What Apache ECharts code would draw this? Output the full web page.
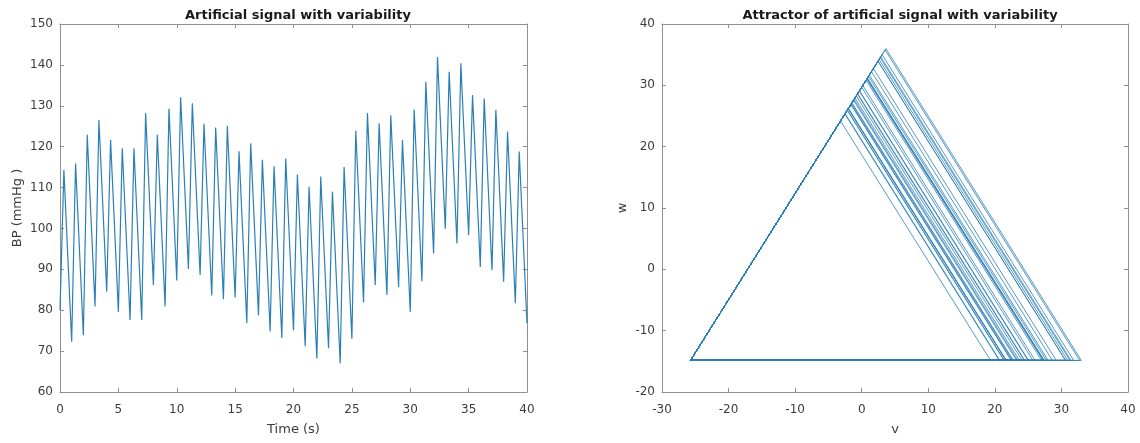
<!DOCTYPE html>
<html>
<head>
<meta charset="utf-8">
<title>Artificial signal with variability</title>
<script src="https://cdn.jsdelivr.net/npm/echarts@6/dist/echarts.min.js"></script>
<style>
  html, body { margin: 0; padding: 0; background: #ffffff; }
  #chart { width: 1140px; height: 443px; }
</style>
</head>
<body>
<div id="chart"></div>
<script>
// ---- Signal data -------------------------------------------------------
// One beat per second; each beat rises for a third of a second to its peak,
// then falls linearly to the next trough.
const beatPeriod = 1;          // s
const upstrokeTime = 1 / 3;    // s, trough -> peak
const delayTau = 1 / 3;        // s, embedding delay for the attractor

// Pressure at t = 0 (mmHg)
const startValue = 80.0;

// Systolic peaks of beats 1..40 (mmHg)
const peakValues = [
  114.3, 115.9, 122.9, 126.5, 121.6, 119.6, 119.6, 128.2, 122.9, 129.3,
  132.1, 130.6, 125.6, 124.7, 125.1, 118.9, 120.8, 116.8, 115.2, 117.1,
  113.2, 110.2, 112.7, 109.0, 115.0, 123.9, 128.2, 125.7, 127.7, 121.6,
  129.1, 135.9, 141.9, 138.3, 140.4, 132.6, 131.8, 129.0, 123.7, 118.8
];

// Troughs closing beats 1..40 (mmHg)
const troughValues = [
  72.3, 73.9, 80.9, 84.5, 79.6, 77.6, 77.6, 86.2, 80.9, 87.3,
  90.1, 88.6, 83.6, 82.7, 83.1, 76.9, 78.8, 74.8, 73.2, 75.1,
  71.2, 68.2, 70.7, 67.0, 73.0, 81.9, 86.2, 83.7, 85.7, 79.6,
  87.1, 93.9, 99.9, 96.3, 98.4, 90.6, 89.8, 87.0, 81.7, 76.8
];

// Axis ticks
const timeTicks = [0, 5, 10, 15, 20, 25, 30, 35, 40];
const bpTicks = [60, 70, 80, 90, 100, 110, 120, 130, 140, 150];
const vTicks = [-30, -20, -10, 0, 10, 20, 30, 40];
const wTicks = [-20, -10, 0, 10, 20, 30, 40];

// ---- Build the waveform vertices ---------------------------------------
const signal = [[0, startValue]];
peakValues.forEach(function (p, k) {
  signal.push([k * beatPeriod + upstrokeTime, p]);
  signal.push([(k + 1) * beatPeriod, troughValues[k]]);
});

// Linear interpolation along the waveform
function signalAt(t) {
  for (let i = 1; i < signal.length; i++) {
    const a = signal[i - 1], b = signal[i];
    if (t <= b[0] + 1e-9) {
      const f = (t - a[0]) / (b[0] - a[0]);
      return a[1] + f * (b[1] - a[1]);
    }
  }
  return signal[signal.length - 1][1];
}

// ---- Attractor: 3-D delay embedding projected orthogonally to (1,1,1) ----
const tEnd = signal[signal.length - 1][0];
const attractor = [];
const steps = Math.round(tEnd / delayTau);
for (let j = 2; j <= steps; j++) {
  const t = j * delayTau;
  const x1 = signalAt(t), x2 = signalAt(t - delayTau), x3 = signalAt(t - 2 * delayTau);
  const v = (x1 + x2 - 2 * x3) / Math.sqrt(6);
  const w = (x1 - x2) / Math.sqrt(2);
  attractor.push([v, w]);
}

// ---- Chart ---------------------------------------------------------------
const FONT = '"DejaVu Sans", Verdana, sans-serif';
const boxColor = '#8f8f8f';
const labelColor = '#3c3c3c';
const lineColor = '#2b7fb7';

function tickRange(ticks) {
  return { min: ticks[0], max: ticks[ticks.length - 1], interval: ticks[1] - ticks[0] };
}

function axis(gridIndex, ticks, position, extra) {
  const r = tickRange(ticks);
  const main = position === 'bottom' || position === 'left';
  return Object.assign({
    gridIndex: gridIndex,
    type: 'value',
    position: position,
    min: r.min, max: r.max, interval: r.interval,
    axisLine: { show: true, onZero: false, lineStyle: { color: boxColor, width: 1 } },
    axisTick: { show: true, inside: true, length: 4, lineStyle: { color: boxColor, width: 1 } },
    axisLabel: {
      show: main, color: labelColor, fontSize: 12, fontFamily: FONT,
      margin: position === 'bottom' ? 12 : 7
    },
    splitLine: { show: false },
    nameTextStyle: { color: labelColor, fontSize: 13, fontFamily: FONT }
  }, extra || {});
}

const titleStyle = { fontSize: 13, fontWeight: 'bold', color: '#1a1a1a', fontFamily: FONT };

const option = {
  animation: false,
  backgroundColor: '#ffffff',
  title: [
    {
      text: 'Artificial signal with variability',
      left: 293, top: 4, textAlign: 'center',
      textStyle: titleStyle
    },
    {
      text: 'Attractor of artificial signal with variability',
      left: 895, top: 4, textAlign: 'center',
      textStyle: titleStyle
    }
  ],
  grid: [
    { left: 60, top: 24, width: 467, height: 368 },
    { left: 662, top: 24, width: 466, height: 368 }
  ],
  xAxis: [
    axis(0, timeTicks, 'bottom', { name: 'Time (s)', nameLocation: 'middle', nameGap: 31 }),
    axis(0, timeTicks, 'top'),
    axis(1, vTicks, 'bottom', { name: 'v', nameLocation: 'middle', nameGap: 31 }),
    axis(1, vTicks, 'top')
  ],
  yAxis: [
    axis(0, bpTicks, 'left', { name: 'BP (mmHg )', nameLocation: 'middle', nameGap: 36 }),
    axis(0, bpTicks, 'right'),
    axis(1, wTicks, 'left', { name: 'w', nameLocation: 'middle', nameGap: 33 }),
    axis(1, wTicks, 'right')
  ],
  series: [
    {
      type: 'line',
      xAxisIndex: 0, yAxisIndex: 0,
      data: signal,
      showSymbol: false,
      lineStyle: { color: lineColor, width: 1.2 },
      silent: true
    },
    {
      type: 'line',
      xAxisIndex: 2, yAxisIndex: 2,
      data: attractor,
      showSymbol: false,
      lineStyle: { color: lineColor, width: 0.8 },
      silent: true
    }
  ]
};

const chart = echarts.init(document.getElementById('chart'), null, { renderer: 'canvas' });
chart.setOption(option);
</script>
</body>
</html>
